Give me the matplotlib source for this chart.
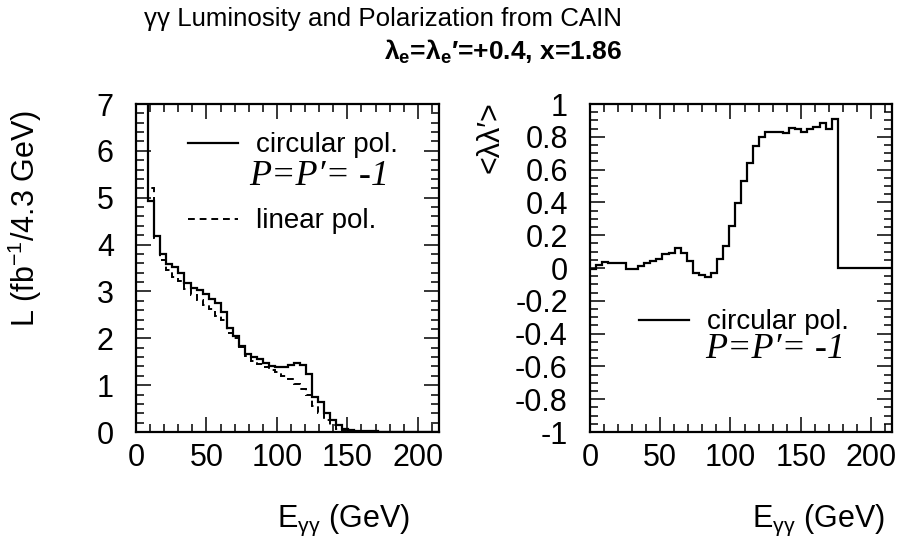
import numpy as np
import matplotlib
matplotlib.use("Agg")
import matplotlib.pyplot as plt
from matplotlib import font_manager
from matplotlib.lines import Line2D
from matplotlib.ticker import MultipleLocator

# ====== FONTS ======
names = {f.name for f in font_manager.fontManager.ttflist}
sans = "Liberation Sans Narrow" if "Liberation Sans Narrow" in names else "Liberation Sans"
plt.rcParams["font.family"] = [sans, "Liberation Sans", "DejaVu Sans"]
plt.rcParams["mathtext.fontset"] = "custom"
plt.rcParams["mathtext.rm"] = sans
plt.rcParams["mathtext.it"] = sans + ":italic"
plt.rcParams["mathtext.bf"] = sans + ":bold"

# ====== DATA ======
bin_width = 4.3
n_bins = 50
edges = bin_width * np.arange(n_bins + 1)

# luminosity per 4.3 GeV bin (fb^-1), first two bins are off scale
lumi_circular = [14, 8.5, 4.94, 4.19, 3.80, 3.58, 3.53, 3.40, 3.17, 3.07,
                 3.02, 2.94, 2.84, 2.76, 2.57, 2.23, 2.05, 1.84, 1.66, 1.61,
                 1.55, 1.47, 1.41, 1.39, 1.38, 1.44, 1.47, 1.43, 1.24, 0.75,
                 0.63, 0.40, 0.26, 0.15, 0.06, 0.04, 0.02, 0.02, 0.02, 0.02,
                 0.01, 0, 0, 0, 0, 0, 0, 0, 0, 0]
lumi_linear = [14, 8.5, 5.20, 4.15, 3.67, 3.45, 3.30, 3.22, 3.05, 2.92,
               2.82, 2.72, 2.62, 2.48, 2.38, 2.12, 2.00, 1.82, 1.63, 1.52,
               1.45, 1.38, 1.32, 1.27, 1.20, 1.13, 1.03, 0.92, 0.78, 0.55,
               0.40, 0.25, 0.14, 0.07, 0.03, 0.02, 0.01, 0.01, 0.01, 0.01,
               0.01, 0, 0, 0, 0, 0, 0, 0, 0, 0]

# <lambda lambda'> per bin, circular polarization
pol_circular = [-0.005, 0.018, 0.035, 0.030, 0.028, 0.030, -0.004, -0.004, 0.012, 0.031,
                0.043, 0.053, 0.083, 0.093, 0.120, 0.093, 0.040, -0.028, -0.042, -0.057,
                -0.028, 0.055, 0.136, 0.256, 0.394, 0.532, 0.642, 0.746, 0.800, 0.827,
                0.827, 0.827, 0.825, 0.855, 0.845, 0.830, 0.847, 0.862, 0.882, 0.850,
                0.906, 0, 0, 0, 0, 0, 0, 0, 0, 0]

x_ticks = [0, 50, 100, 150, 200]
lumi_ticks = [0, 1, 2, 3, 4, 5, 6, 7]
pol_ticks = [-1, -0.8, -0.6, -0.4, -0.2, 0, 0.2, 0.4, 0.6, 0.8, 1]
pol_labels = ["-1", "-0.8", "-0.6", "-0.4", "-0.2", "0",
              "0.2", "0.4", "0.6", "0.8", "1"]

# ====== FIGURE ======
W, H = 904, 552
fig = plt.figure(figsize=(W / 100, H / 100), dpi=100)


def box(x0, x1, y0, y1):
    return [x0 / W, 1 - y1 / H, (x1 - x0) / W, (y1 - y0) / H]


ax1 = fig.add_axes(box(136, 439, 104, 432))
ax2 = fig.add_axes(box(590, 892, 104, 432))

fs = 22
dash = (0, (3.5, 2.5))
for ax in (ax1, ax2):
    for s in ax.spines.values():
        s.set_linewidth(1.6)
    ax.set_xlim(0, 215)
    ax.set_xticks(x_ticks)
    ax.xaxis.set_minor_locator(MultipleLocator(10))
    ax.tick_params(which="both", direction="in", top=True, right=True,
                   width=1.1, labelsize=fs)
    ax.tick_params(which="major", length=11)
    ax.tick_params(which="minor", length=5.5)
    ax.tick_params(axis="y", pad=16)
    ax.tick_params(axis="x", pad=8)

# ====== LEFT : LUMINOSITY ======
ax1.stairs(lumi_circular, edges, baseline=None, color="black", lw=1.6)
ax1.stairs(lumi_linear, edges, baseline=None, color="black", lw=1.4, linestyle=dash)
ax1.set_ylim(0, 7)
ax1.set_yticks(lumi_ticks)
ax1.yaxis.set_minor_locator(MultipleLocator(0.2))
ax1.set_ylabel(r"L (fb$^{-1}$/4.3 GeV)", fontsize=fs, va="center")
ax1.yaxis.set_label_coords(-0.366, 0.65)
ax1.set_xlabel(r"E$_{\mathrm{\gamma\gamma}}$ (GeV)", fontsize=fs, ha="right", va="center")
ax1.xaxis.set_label_coords(0.904, -0.27)

h1 = [Line2D([], [], color="black", lw=1.6),
      Line2D([], [], color="black", lw=1.4, linestyle=dash)]
ax1.legend(h1, ["circular pol.", "linear pol."], loc="upper left",
           bbox_to_anchor=(0.09, 0.99), frameon=False, fontsize=20,
           handlelength=1.8, handletextpad=0.65, labelspacing=1.8)
ax1.text(0.375, 0.78, "P=P′= -1", transform=ax1.transAxes, fontsize=26,
         family="Liberation Serif", style="italic", va="center")

# ====== RIGHT : POLARIZATION ======
ax2.stairs(pol_circular, edges, baseline=None, color="black", lw=1.6)
ax2.set_ylim(-1, 1)
ax2.set_yticks(pol_ticks)
ax2.set_yticklabels(pol_labels)
ax2.yaxis.set_minor_locator(MultipleLocator(0.05))
ax2.set_ylabel("<λλ′>", fontsize=fs, va="center")
ax2.yaxis.set_label_coords(-0.33, 0.9)
ax2.set_xlabel(r"E$_{\mathrm{\gamma\gamma}}$ (GeV)", fontsize=fs, ha="right", va="center")
ax2.xaxis.set_label_coords(0.977, -0.27)

ax2.legend([Line2D([], [], color="black", lw=1.6)], ["circular pol."],
           loc="upper left", bbox_to_anchor=(0.08, 0.45), frameon=False,
           fontsize=20, handlelength=1.8, handletextpad=0.65)
ax2.text(0.38, 0.25, "P=P′= -1", transform=ax2.transAxes, fontsize=26,
         family="Liberation Serif", style="italic", va="center")

# ====== TITLE ======
fig.text(622 / W, 1 - 19 / H, "γγ Luminosity and Polarization from CAIN",
         ha="right", va="center", fontsize=18.6)
fig.text(622 / W, 1 - 52 / H, r"λ$_\mathbf{e}$=λ$_\mathbf{e}$′=+0.4, x=1.86",
         ha="right", va="center", fontsize=19, fontweight="bold")

fig.savefig("out.png", dpi=100)
